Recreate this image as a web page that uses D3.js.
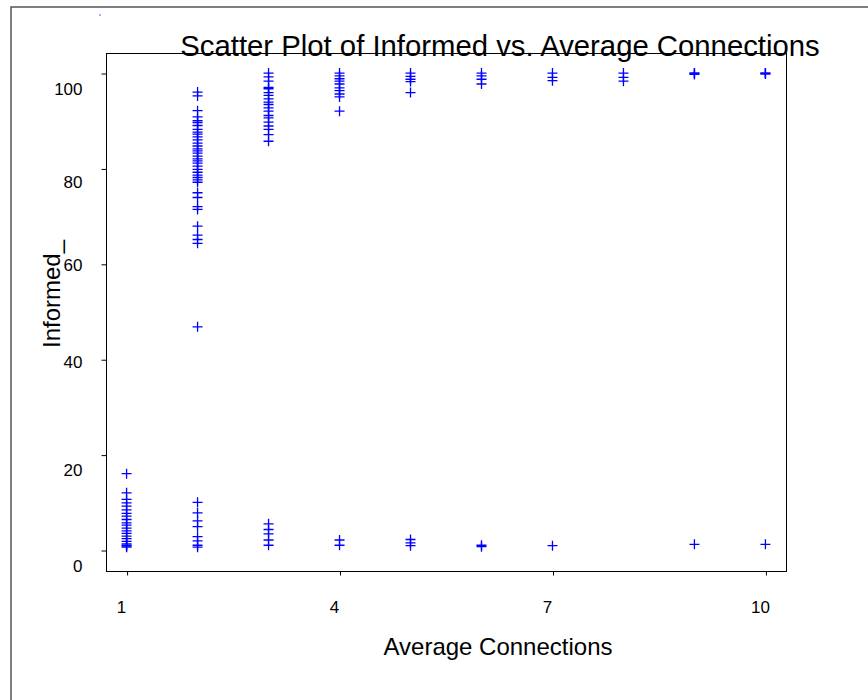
<!DOCTYPE html>
<html>
<head>
<meta charset="utf-8">
<script src="https://cdn.jsdelivr.net/npm/d3@7"></script>
<style>
  body { margin: 0; background: #fff; }
  svg { display: block; }
  text { font-family: "Liberation Sans", Arial, sans-serif; fill: #000; }
</style>
</head>
<body>
<svg id="chart" width="868" height="700"></svg>
<script>
// Simulation runs: share of population informed (%) for each average number of connections
const connections = [1, 2, 3, 4, 5, 6, 7, 8, 9, 10];

const informedAt1 = [16, 12, 10.6, 9.9, 9.2, 8.4, 7.7, 7.1, 6.4, 5.7, 5.2, 4.6, 4.0, 3.5, 2.9, 2.4, 1.8, 1.3, 1.0, 0.8, 0.6];
const informedAt2 = [96.0, 95.2, 92.1, 90.8, 90.0, 89.6, 89.0, 88.2, 87.6, 87.2, 86.6, 86.0, 85.3, 84.7, 84.1,
                     83.7, 83.2, 82.6, 82.0, 81.6, 81.1, 80.5, 79.8, 79.2, 78.6, 78.1, 77.6, 77.1, 74.9, 73.9,
                     72.0, 71.4, 67.9, 66.0, 65.1, 64.3, 46.8,
                     10.0, 7.8, 6.1, 4.9, 2.8, 1.9, 1.0, 0.6];
const informedAt3 = [100, 99.2, 98.3, 97.0, 96.7, 95.9, 95.3, 94.6, 93.9, 93.4, 92.7, 92.0, 91.1, 90.6, 89.7,
                     88.9, 88.2, 87.1, 85.7,
                     5.5, 4.3, 3.4, 2.1, 1.0];
const informedAt4 = [100, 99.4, 98.8, 98.3, 97.7, 96.9, 96.3, 95.6, 95.0, 92.0, 2.1, 1.0];
const informedAt5 = [100, 99.3, 98.7, 98.2, 95.9, 2.2, 1.5, 0.9];
const informedAt6 = [100, 99.4, 98.7, 97.7, 1.0, 0.7];
const informedAt7 = [100, 99.1, 98.4, 0.9];
const informedAt8 = [100, 99.1, 98.3];
const informedAt9 = [100, 100, 99.7, 1.2];
const informedAt10 = [100, 100, 99.8, 1.2];

const xTickValues = [1, 4, 7, 10];
const yTickValues = [0, 20, 40, 60, 80, 100];
// small vertical nudges of the value labels below their ticks
const yLabelNudge = [16, 15, 2, 1, 13, 16];

const runsByConnection = [informedAt1, informedAt2, informedAt3, informedAt4, informedAt5,
                          informedAt6, informedAt7, informedAt8, informedAt9, informedAt10];
const points = connections.flatMap((c, i) => runsByConnection[i].map(v => ({ c, v })));

const svg = d3.select("#chart");
const plot = { left: 106, top: 53, right: 786, bottom: 571 };

const x = d3.scaleLinear().domain([0.71, 10.29]).range([plot.left, plot.right]);
const y = d3.scaleLinear().domain([-4.4, 104.2]).range([plot.bottom, plot.top]);

// outer frame
svg.append("rect")
  .attr("x", 11).attr("y", 7)
  .attr("width", 900).attr("height", 760)
  .attr("fill", "none").attr("stroke", "#555").attr("stroke-width", 1.5);

svg.append("circle").attr("cx", 100).attr("cy", 15).attr("r", 0.8)
  .attr("fill", "#4040ff");

// plot frame
svg.append("rect")
  .attr("x", plot.left + 0.5).attr("y", plot.top + 0.5)
  .attr("width", plot.right - plot.left).attr("height", plot.bottom - plot.top)
  .attr("fill", "none").attr("stroke", "#000").attr("stroke-width", 1);

// x axis
const xAxis = svg.append("g")
  .attr("transform", `translate(0.5,${plot.bottom + 0.5})`)
  .call(d3.axisBottom(x).tickValues(xTickValues).tickFormat(d3.format("d"))
    .tickSize(4).tickSizeOuter(0).tickPadding(25.6));
xAxis.select(".domain").remove();
xAxis.selectAll("line").attr("stroke", "#000");
xAxis.selectAll("text")
  .attr("x", -6)
  .style("font-size", "17px")
  .style("font-family", "'Liberation Sans', Arial, sans-serif");

// y axis
const yAxis = svg.append("g")
  .attr("transform", `translate(${plot.left + 0.5},0.5)`)
  .call(d3.axisLeft(y).tickValues(yTickValues).tickFormat(d3.format("d"))
    .tickSize(5).tickSizeOuter(0).tickPadding(19));
yAxis.select(".domain").remove();
yAxis.selectAll("line").attr("stroke", "#000");
yAxis.selectAll("text")
  .attr("y", (d, i) => yLabelNudge[i])
  .style("font-size", "17px")
  .style("font-family", "'Liberation Sans', Arial, sans-serif");

// markers: soft-edged plus signs
const cross = "M-5,0H5M0,-5V5";
svg.append("g")
  .selectAll("path")
  .data(points)
  .join("path")
  .attr("transform", d => `translate(${x(d.c)},${y(d.v)})`)
  .attr("d", cross)
  .attr("fill", "none")
  .attr("stroke", "#0000ff")
  .attr("stroke-width", 1.3);

// titles
svg.append("text")
  .attr("x", 500).attr("y", 55.5)
  .attr("text-anchor", "middle")
  .style("font-size", "29.3px")
  .text("Scatter Plot of Informed vs. Average Connections");

svg.append("text")
  .attr("x", 498).attr("y", 655)
  .attr("text-anchor", "middle")
  .style("font-size", "24px")
  .text("Average Connections");

svg.append("text")
  .attr("transform", "translate(60,294) rotate(-90)")
  .attr("text-anchor", "middle")
  .style("font-size", "24px")
  .text("Informed_");
</script>
</body>
</html>
